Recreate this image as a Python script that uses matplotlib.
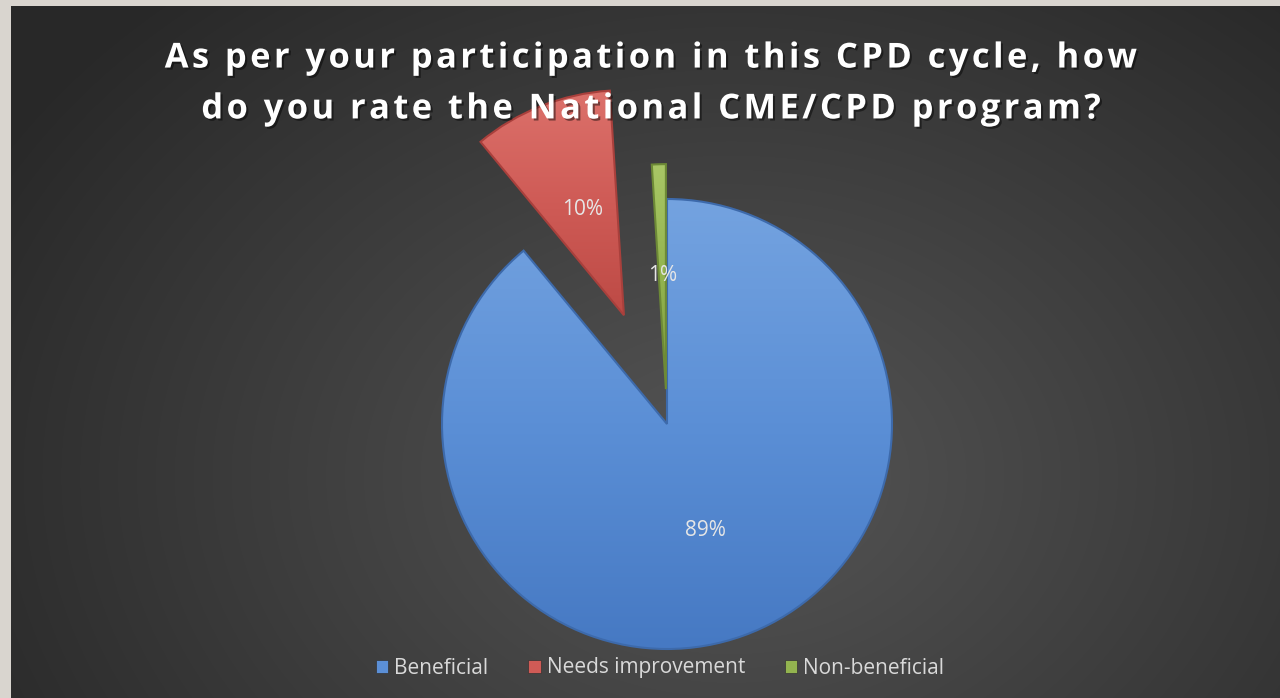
import numpy as np
import matplotlib
matplotlib.use("Agg")
import matplotlib.pyplot as plt
import matplotlib.patheffects as pe
from matplotlib.colors import LinearSegmentedColormap

# ---- data ----
categories = ["Beneficial", "Needs improvement", "Non-beneficial"]
values = [89, 10, 1]
pct_labels = ["89%", "10%", "1%"]
title_lines = ["As per your participation in this CPD cycle, how",
               "do you rate the National CME/CPD program?"]

colors = ["#5b8fd6", "#cf5b56", "#93b44f"]
light = ["#74a3e0", "#dc716b", "#a9c766"]
dark = ["#4679c3", "#bd4a45", "#7e9e3f"]
edges = ["#3d6aab", "#a9403c", "#6d8a36"]
explode = [0.0, 0.52, 0.155]

W, H = 1280, 698
fig = plt.figure(figsize=(W / 100, H / 100), dpi=100)
fig.patch.set_facecolor("#d9d5cf")

# background panel with radial gradient
bg = fig.add_axes([11 / W, 0, 1 - 11 / W, 1 - 6 / H])
bg.set_axis_off()
yy, xx = np.mgrid[0:692, 0:1269]
cx, cy = 720, 470
d = np.sqrt(((xx - cx) / 820.0) ** 2 + ((yy - cy) / 620.0) ** 2)
val = 0.335 - 0.17 * np.clip(d, 0, 1.2)
val = np.clip(val, 0.16, 0.34)
img = np.dstack([val, val, val])
bg.imshow(img, extent=[0, 1, 0, 1], origin="upper", aspect="auto", interpolation="bilinear")
bg.set_xlim(0, 1)
bg.set_ylim(0, 1)

# pie axes: full figure, data units = pie radius
R = 225.0
pcx, pcy = 667.0, 424.0
ax = fig.add_axes([0, 0, 1, 1])
ax.patch.set_alpha(0)
wedges, texts, autotexts = ax.pie(
    values, explode=explode, colors=colors, startangle=90, counterclock=False,
    labels=None, autopct=lambda p: "", pctdistance=0.505, radius=1.0,
    wedgeprops=dict(edgecolor="none", linewidth=0),
)
ax.set_aspect("auto")
ax.set_axis_off()

for i, w in enumerate(wedges):
    cmap = LinearSegmentedColormap.from_list("g%d" % i, [dark[i], colors[i], light[i]])
    grad = np.linspace(0, 1, 256).reshape(-1, 1)
    bb = w.get_path().get_extents(w.get_patch_transform())
    im = ax.imshow(grad, cmap=cmap, origin="lower", aspect="auto",
                   extent=[bb.x0, bb.x1, bb.y0, bb.y1], zorder=w.get_zorder() + 0.1,
                   interpolation="bilinear")
    im.set_clip_path(w)
    w.set_edgecolor(edges[i])
    w.set_linewidth(1.5)
    w.set_zorder(w.get_zorder() + 0.2)
    w.set_facecolor("none")
ax.set_aspect("auto")
ax.set_xlim(-pcx / R, (W - pcx) / R)
ax.set_ylim(-(H - pcy) / R, pcy / R)

for t, lab in zip(autotexts, pct_labels):
    t.set_text(lab)
    t.set_color("#e6e6e6")
    t.set_fontsize(15)
    t.set_family(["Open Sans", "DejaVu Sans"])
    t.set_zorder(10)

# title (letter-spaced with hair spaces)
HS = "\u200a"
spaced = "\n".join(HS.join(list(line)) for line in title_lines)
fig.text(653 / W, 1 - 84 / H, spaced, ha="center", va="center", color="white",
         fontsize=24.8, fontweight="bold", family=["Open Sans", "DejaVu Sans"],
         linespacing=1.65,
         path_effects=[pe.withSimplePatchShadow(offset=(1.5, -1.5), shadow_rgbFace="black", alpha=0.45)])

# legend
leg = ax.legend(wedges, categories, loc="center", bbox_to_anchor=(660 / W, 1 - 668 / H),
                bbox_transform=fig.transFigure, ncol=3, frameon=False,
                prop=dict(family="Open Sans", size=15), labelcolor="#d9d9d9",
                handlelength=0.6, handleheight=0.6, handletextpad=0.3, columnspacing=1.9)
for h, c in zip(leg.legend_handles, colors):
    h.set_facecolor(c)
    h.set_edgecolor("#333333")
    h.set_linewidth(0.5)

fig.savefig("out.png", dpi=100, facecolor=fig.get_facecolor())
